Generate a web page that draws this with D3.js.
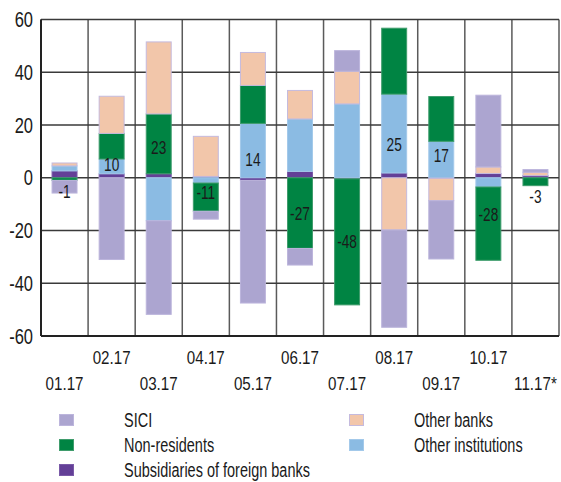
<!DOCTYPE html>
<meta charset="utf-8">
<style>
    body { margin: 0; background: #fff; }
    text { font-family: "Liberation Sans", Arial, sans-serif; fill: #1a1a1a; }
    .grid line { stroke: #3a3a3a; stroke-width: 1.5; }
    .vgrid line { stroke: #5a5a5a; stroke-width: 1.5; }
</style>
<body>
<script src="https://cdn.jsdelivr.net/npm/d3@7"></script>
<script>

    // months and series (bn)
    var months = ["01.17", "02.17", "03.17", "04.17", "05.17", "06.17", "07.17", "08.17", "09.17", "10.17", "11.17*"];
    var sici        = [-4.8, -31.0, -35.5, -3.0, -46.5, -6.3, 7.8, -36.9, -22.1, 27.2, 1.0];
    var nonRes      = [-1.0, 9.7, 22.7, -10.7, 14.4, -26.8, -47.8, 25.0, 17.0, -27.8, -3.0];
    var subsidiary  = [2.6, 1.5, 1.5, 0.5, -1.0, 2.4, -0.4, 1.8, -0.2, 1.6, 0.8];
    var otherBanks  = [1.1, 14.1, 27.3, 15.2, 12.5, 10.8, 12.4, -19.8, -8.5, 2.5, 1.3];
    var otherInst   = [1.9, 5.6, -16.3, -2.0, 20.6, 19.9, 28.0, 29.9, 13.8, -3.5, 0.0];
    var nonResLabel = [-1, 10, 23, -11, 14, -27, -48, 25, 17, -28, -3];
    var yTicks = [-60, -40, -20, 0, 20, 40, 60];

    var series = [
        {key: "subsidiary", name: "Subsidiaries of foreign banks", values: subsidiary, fill: "#633f97", stroke: "#7a5aa8"},
        {key: "otherInst",  name: "Other institutions",            values: otherInst,  fill: "#8bbbe3", stroke: "#a3c9ea"},
        {key: "nonRes",     name: "Non-residents",                 values: nonRes,     fill: "#008443", stroke: "#3f9c6c"},
        {key: "otherBanks", name: "Other banks",                   values: otherBanks, fill: "#f2c6aa", stroke: "#c4bade"},
        {key: "sici",       name: "SICI",                          values: sici,       fill: "#aca5d0", stroke: "#bcb5dc"}
    ];

    var width = 561, height = 482;
    var plotLeft = 41, plotRight = 559, plotTop = 19.5, plotBottom = 336;

    // the reference uses a condensed face; squeeze Liberation Sans horizontally
    function squeeze(sel, fx, fy, sx) {
        sel.attr("transform", function(d, i) {
            return "translate(" + fx(d, i) + "," + fy(d, i) + ") scale(" + sx + ",1)";
        });
    }

    var rows = months.map(function(m, i) {
        var r = {month: m};
        series.forEach(function(s) { r[s.key] = s.values[i]; });
        return r;
    });

    var stack = d3.stack()
        .keys(series.map(function(s) { return s.key; }))
        .offset(d3.stackOffsetDiverging);
    var stacked = stack(rows);

    var x = d3.scaleBand()
        .domain(months)
        .range([plotLeft, plotRight])
        .paddingInner(0.47)
        .paddingOuter(0.235);

    var y = d3.scaleLinear()
        .domain([-60, 60])
        .range([plotBottom, plotTop]);

    var svg = d3.select("body").append("svg")
        .attr("width", width)
        .attr("height", height);

    // vertical separators between months
    var step = x.step();
    svg.append("g").attr("class", "vgrid")
        .selectAll("line")
        .data(d3.range(months.length + 1))
      .enter().append("line")
        .attr("x1", function(i) { return plotLeft + i * step; })
        .attr("x2", function(i) { return plotLeft + i * step; })
        .attr("y1", plotTop)
        .attr("y2", plotBottom);

    // horizontal grid
    svg.append("g").attr("class", "grid")
        .selectAll("line")
        .data(yTicks)
      .enter().append("line")
        .attr("x1", plotLeft)
        .attr("x2", plotRight)
        .attr("y1", function(d) { return y(d); })
        .attr("y2", function(d) { return y(d); });

    // stacked bars
    var layers = svg.append("g").selectAll("g")
        .data(stacked)
      .enter().append("g")
        .attr("fill", function(d, i) { return series[i].fill; })
        .attr("stroke", function(d, i) { return series[i].stroke; })
        .attr("stroke-width", 1);

    layers.selectAll("rect")
        .data(function(d) { return d; })
      .enter().append("rect")
        .attr("x", function(d) { return x(d.data.month); })
        .attr("width", x.bandwidth())
        .attr("y", function(d) { return y(Math.max(d[0], d[1])); })
        .attr("height", function(d) { return Math.abs(y(d[0]) - y(d[1])); });

    // axis lines drawn over bars
    svg.append("line")
        .attr("x1", plotLeft).attr("x2", plotLeft)
        .attr("y1", plotTop).attr("y2", plotBottom)
        .attr("stroke", "#222").attr("stroke-width", 2);
    svg.append("line")
        .attr("x1", plotLeft).attr("x2", plotRight)
        .attr("y1", plotBottom).attr("y2", plotBottom)
        .attr("stroke", "#222").attr("stroke-width", 2);

    // y tick labels
    var yLab = svg.append("g").selectAll("text")
        .data(yTicks)
      .enter().append("text")
        .attr("dy", "0.35em")
        .attr("text-anchor", "end")
        .style("font-size", "22px")
        .text(function(d) { return d; });
    squeeze(yLab, function() { return 33; }, function(d) { return y(d); }, 0.75);

    // month labels, two staggered rows
    var xLab = svg.append("g").selectAll("text")
        .data(months)
      .enter().append("text")
        .attr("text-anchor", "middle")
        .style("font-size", "18.5px")
        .text(function(d) { return d; });
    squeeze(xLab, function(d) { return x(d) + x.bandwidth() / 2; },
        function(d, i) { return i % 2 ? 364 : 390; }, 0.82);

    // non-resident value labels
    var vLab = svg.append("g").selectAll("text")
        .data(nonResLabel)
      .enter().append("text")
        .attr("dy", "0.35em")
        .attr("text-anchor", "middle")
        .style("font-size", "19px")
        .text(function(d) { return d; });
    squeeze(vLab, function(d, i) { return x(months[i]) + x.bandwidth() / 2; },
        function(d) { return y(Math.abs(d) < 5 ? d - 4 : d / 2); }, 0.72);

    // legend
    var legendItems = [
        {s: series[4], col: 0, row: 0},
        {s: series[2], col: 0, row: 1},
        {s: series[0], col: 0, row: 2},
        {s: series[3], col: 1, row: 0},
        {s: series[1], col: 1, row: 1}
    ];
    var legend = svg.append("g").selectAll("g")
        .data(legendItems)
      .enter().append("g")
        .attr("transform", function(d) {
            return "translate(" + (d.col ? 349 : 59) + "," + (420 + d.row * 25) + ")";
        });
    legend.append("rect")
        .attr("x", 0.5).attr("y", -5.5)
        .attr("width", 14).attr("height", 11)
        .attr("fill", function(d) { return d.s.fill; })
        .attr("stroke", function(d) { return d.s.stroke; });
    var legText = legend.append("text")
        .attr("dy", "0.35em")
        .style("font-size", "21px")
        .text(function(d) { return d.s.name; });
    squeeze(legText, function() { return 65; }, function() { return 0; }, 0.69);

</script>
